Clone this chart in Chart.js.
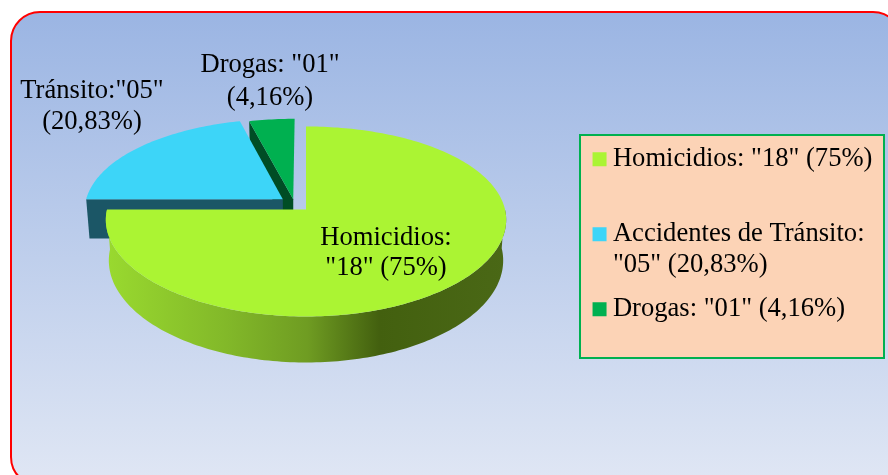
<!DOCTYPE html>
<html>
<head>
<meta charset="utf-8">
<title>Casos</title>
<script src="https://cdn.jsdelivr.net/npm/chart.js@4"></script>
<style>
html,body{margin:0;padding:0;background:#fff;overflow:hidden}
#frame{position:absolute;left:10px;top:11px;width:893px;height:476px;box-sizing:border-box;border:2px solid #f00;border-radius:30px;
background:linear-gradient(180deg,#9bb5e3 0,#dfe6f4 464px)}
#wrap{position:absolute;left:0;top:0;width:888px;height:475px}
</style>
</head>
<body>
<div id="frame"></div>
<div id="wrap"><canvas id="chart" width="888" height="475"></canvas></div>
<script>
'use strict';

let categories=['Homicidios','Accidentes de Tránsito','Drogas']
let cases=[18,5,1]
let colors=['#abf433','#3dd5f8','#00b050']
let wallColors=[null,'#1b5666','#004d25']
let legendTexts=[['Homicidios: "18" (75%)',''],['Accidentes de Tránsito:','"05" (20,83%)'],['Drogas: "01" (4,16%)','']]
let sliceLabels=[['Homicidios:','"18" (75%)'],['Tránsito:"05"','(20,83%)'],['Drogas: "01"','(4,16%)']]

// how far each slice is pulled out, in pie radius units
let explodeX=[0,-0.118,-0.065]
let explodeY=[0,-0.11,-0.11]

// where the slice labels sit: x, first line y, second line y
let labelPos=[[386,238,268],[92,91,122],[270,65,98]]
let font='"Liberation Serif","Times New Roman",serif'

// tilted view of the pie
let tilt={rx:199,ry:95,near:0.126,spread:0.11,depth:40,depthNear:6,shrink:0.985}

function project(arc,u,v)
{
    return [arc.x+u*tilt.rx*(1+tilt.spread*v), arc.y+v*tilt.ry*(1+tilt.near*v)]
}

function projectLow(arc,u,v)
{
    let p=project(arc,u,v)
    return [arc.x+(p[0]-arc.x)*tilt.shrink, p[1]+tilt.depth+tilt.depthNear*Math.max(v,-0.5)]
}

// rim of a slice as [u,v] points, from the arc element's own angles
function rimPoints(arc,i,from,to)
{
    let pts=[]
    let steps=Math.max(2,Math.ceil((to-from)/0.02))
    for(let k=0;k<=steps;k++)
    {
        let a=from+(to-from)*k/steps
        pts.push([explodeX[i]+Math.cos(a), explodeY[i]+Math.sin(a)])
    }
    return pts
}

function fillPoly(ctx,pts,style)
{
    ctx.beginPath()
    pts.forEach(function(p,k){ if(k===0){ctx.moveTo(p[0],p[1])}else{ctx.lineTo(p[0],p[1])} })
    ctx.closePath()
    ctx.fillStyle=style
    ctx.fill()
}

function drawSlice(ctx,arc,i)
{
    let rim=rimPoints(arc,i,arc.startAngle,arc.endAngle)
    let top=rim.map(function(p){return project(arc,p[0],p[1])})
    let apex=project(arc,explodeX[i],explodeY[i])
    let apexLow=projectLow(arc,explodeX[i],explodeY[i])

    if(i===0)
    {
        // outer wall of the big slice, only the front half shows
        let front=rim.filter(function(p){return p[1]>=-0.02})
        let up=front.map(function(p){return project(arc,p[0],p[1])})
        let low=front.map(function(p){return projectLow(arc,p[0],p[1])}).reverse()
        let grad=ctx.createLinearGradient(108,0,507,0)
        grad.addColorStop(0,'#99d92f')
        grad.addColorStop(0.3,'#82b829')
        grad.addColorStop(0.5,'#6f9c22')
        grad.addColorStop(0.68,'#43600f')
        grad.addColorStop(1,'#4a6816')
        fillPoly(ctx,up.concat(low),grad)
    }
    else
    {
        // cut face on the start side of the small slices
        let first=rim[0]
        fillPoly(ctx,[apex,project(arc,first[0],first[1]),projectLow(arc,first[0],first[1]),apexLow],wallColors[i])
    }
    fillPoly(ctx,[apex].concat(top),colors[i])
}

let tiltedPie={
    id:'tiltedPie',
    beforeDatasetsDraw:function(chart)
    {
        let ctx=chart.ctx
        let arcs=chart.getDatasetMeta(0).data
        ctx.save()
        drawSlice(ctx,arcs[2],2)
        drawSlice(ctx,arcs[1],1)
        drawSlice(ctx,arcs[0],0)
        ctx.fillStyle='#000'
        ctx.font='26.6px '+font
        ctx.textAlign='center'
        ctx.textBaseline='middle'
        sliceLabels.forEach(function(lines,i)
        {
            ctx.fillText(lines[0],labelPos[i][0],labelPos[i][1])
            ctx.fillText(lines[1],labelPos[i][0],labelPos[i][2])
        })
        ctx.restore()
        return false
    }
}

let legendPanel={
    id:'legendPanel',
    afterLayout:function(chart)
    {
        let legend=chart.legend
        legend.left=585.5
        legend.right=884
        legend.top=132
        legend.bottom=358
    },
    beforeDraw:function(chart)
    {
        let ctx=chart.ctx
        ctx.save()
        ctx.fillStyle='#fcd3b6'
        ctx.strokeStyle='#00b050'
        ctx.lineWidth=2
        ctx.fillRect(580,135,304,223)
        ctx.strokeRect(580,135,304,223)
        ctx.restore()
    }
}

let myChart=new Chart(document.getElementById('chart').getContext('2d'),{
    type:'pie',
    data:{
        labels:categories,
        datasets:[{data:cases,backgroundColor:colors,borderWidth:0,radius:199}]
    },
    options:{
        responsive:false,
        animation:false,
        layout:{padding:{left:107,right:383,top:10.5,bottom:66.5}},
        plugins:{
            tooltip:{enabled:false},
            legend:{
                position:'chartArea',
                align:'start',
                labels:{
                    usePointStyle:true,
                    pointStyle:'rect',
                    boxWidth:0.1,
                    boxHeight:14,
                    padding:14,
                    color:'#000',
                    font:{family:font,size:26.6,lineHeight:1.147},
                    generateLabels:function(chart)
                    {
                        return legendTexts.map(function(t,i){
                            return {text:t,fillStyle:colors[i],strokeStyle:colors[i],lineWidth:0,pointStyle:'rect',index:i}
                        })
                    }
                }
            }
        }
    },
    plugins:[tiltedPie,legendPanel]
})
</script>
</body>
</html>
